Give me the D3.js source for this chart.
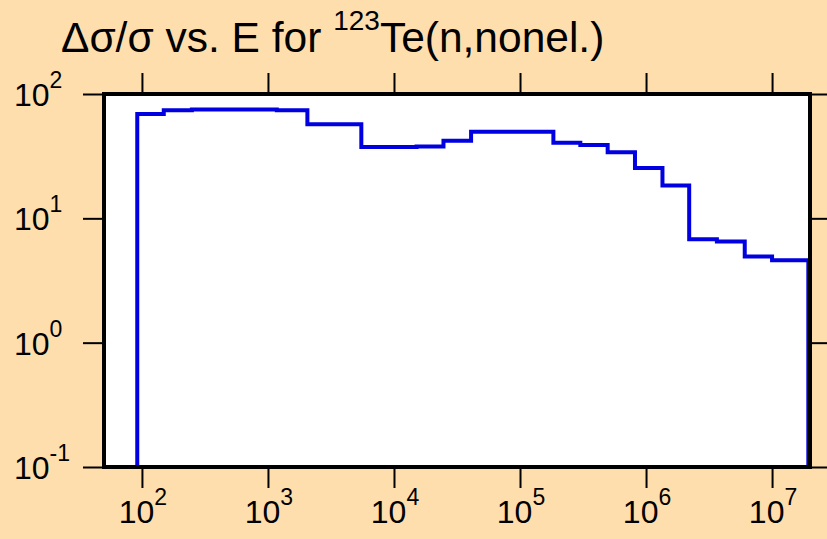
<!DOCTYPE html>
<html>
<head>
<meta charset="utf-8">
<script src="https://cdn.jsdelivr.net/npm/d3@7"></script>
<style>
  html, body { margin: 0; padding: 0; background: #FFDEAD; }
  svg { display: block; }
  text { font-family: "Liberation Sans", Arial, sans-serif; fill: #000; }
</style>
</head>
<body>
<script>
// ---- data ----
const binEdges = [91.8, 149, 249, 411, 679, 1175, 2055, 3320, 5506, 8895, 15100, 24700,
  40900, 67800, 111700, 184000, 301000, 496000, 817000, 1.35e6, 2.2e6, 3.65e6, 6.07e6, 1.0e7, 1.94e7];
const binValues = [69, 74, 75, 75, 75, 74, 57, 57, 37.5, 37.5, 37.8, 42,
  49.8, 49.8, 49.8, 40.6, 38.9, 34, 25.4, 18.4, 6.8, 6.5, 4.94, 4.6];
const xTickExps = [2, 3, 4, 5, 6, 7];
const yTickExps = [-1, 0, 1, 2];
const xDomain = [50, 2e7];
const yDomain = [0.1, 100];
const titleMain = "\u0394\u03c3/\u03c3 vs. E for ";
const titleSup = "123";
const titleTail = "Te(n,nonel.)";

// ---- layout ----
const W = 827, H = 539;
const mLeft = 104, mRight = 810, mTop = 94, mBottom = 467;
const tickLen = 21;

const svg = d3.select("body").append("svg").attr("width", W).attr("height", H);
svg.append("rect").attr("width", W).attr("height", H).attr("fill", "#FFDEAD");

const x = d3.scaleLog().domain(xDomain).range([mLeft, mRight]);
const y = d3.scaleLog().domain(yDomain).range([mBottom, mTop]);

// plot background
svg.append("rect").attr("x", mLeft).attr("y", mTop)
  .attr("width", mRight - mLeft).attr("height", mBottom - mTop).attr("fill", "#fff");

// step line
const pts = [[binEdges[0], yDomain[0]]];
binValues.forEach((v, i) => pts.push([binEdges[i], v]));
pts.push([binEdges[binEdges.length - 1], binValues[binValues.length - 1]]);
pts.push([binEdges[binEdges.length - 1], yDomain[0]]);
const line = d3.line().x(d => x(d[0])).y(d => y(d[1])).curve(d3.curveStepAfter);
svg.append("path").datum(pts).attr("d", line)
  .attr("fill", "none").attr("stroke", "#0000e0").attr("stroke-width", 4)
  .attr("stroke-linejoin", "miter");

// axes (ticks outward on all four sides)
const xTicks = xTickExps.map(e => Math.pow(10, e));
const yTicks = yTickExps.map(e => Math.pow(10, e));
function styleAxis(g) {
  g.select(".domain").remove();
  g.selectAll(".tick line").attr("stroke", "#000").attr("stroke-width", 2);
  g.selectAll(".tick text").remove();
}
svg.append("g").attr("transform", `translate(0,${mBottom})`)
  .call(d3.axisBottom(x).tickValues(xTicks).tickSize(tickLen)).call(styleAxis);
svg.append("g").attr("transform", `translate(0,${mTop})`)
  .call(d3.axisTop(x).tickValues(xTicks).tickSize(tickLen)).call(styleAxis);
svg.append("g").attr("transform", `translate(${mLeft},0)`)
  .call(d3.axisLeft(y).tickValues(yTicks).tickSize(tickLen)).call(styleAxis);
svg.append("g").attr("transform", `translate(${mRight},0)`)
  .call(d3.axisRight(y).tickValues(yTicks).tickSize(tickLen)).call(styleAxis);

// frame
svg.append("rect").attr("x", mLeft).attr("y", mTop)
  .attr("width", mRight - mLeft).attr("height", mBottom - mTop)
  .attr("fill", "none").attr("stroke", "#000").attr("stroke-width", 4);

const fsMain = 32, fsSup = 23;

// tick labels
xTickExps.forEach(e => {
  const t = svg.append("text").attr("x", x(Math.pow(10, e)) + 1).attr("y", mBottom + 56)
    .attr("text-anchor", "middle").style("font-size", fsMain + "px");
  t.append("tspan").text("10");
  t.append("tspan").style("font-size", fsSup + "px").attr("dy", -18).text(String(e));
});
yTickExps.forEach(e => {
  const t = svg.append("text").attr("x", 14).attr("y", y(Math.pow(10, e)) + 12)
    .attr("text-anchor", "start").style("font-size", fsMain + "px");
  t.append("tspan").text("10");
  t.append("tspan").style("font-size", fsSup + "px").attr("dy", -18).text(String(e));
});

// title
const title = svg.append("text").attr("x", 61).attr("y", 52).style("font-size", "42.5px");
title.append("tspan").text(titleMain);
title.append("tspan").style("font-size", "28px").attr("dy", -22).text(titleSup);
title.append("tspan").attr("dy", 22).text(titleTail);
</script>
</body>
</html>
